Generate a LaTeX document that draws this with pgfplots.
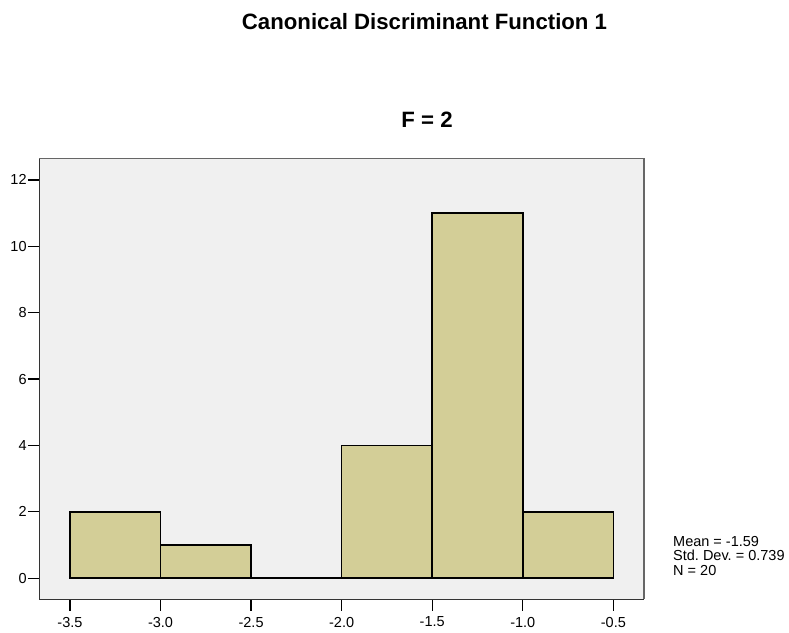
\documentclass[border=0pt]{standalone}
\usepackage{fontspec}
\setmainfont{Liberation Sans}
\usepackage{pgfplots}
\pgfplotsset{compat=1.18}
\definecolor{barfill}{RGB}{211,206,151}
\definecolor{bgfill}{RGB}{240,240,240}
\frenchspacing
\begin{document}
\begin{tikzpicture}[x=1bp,y=1bp]
\path (0,0) rectangle (789,633);
\begin{axis}[
  at={(39.3bp,33.7bp)}, anchor=south west,
  scale only axis, width=604.7bp, height=441bp,
  xmin=-3.669, xmax=-0.331, ymin=-0.636, ymax=12.65,
  axis background/.style={fill=bgfill},
  axis line style={draw=black!80, line width=1.2bp},
  axis x line*=bottom, axis y line*=left,
  tick align=outside, major tick length=11.5bp,
  tick style={black, line width=1.3bp},
  xtick={-3.5,-3,-2.5,-2,-1.5,-1,-0.5},
  xticklabels={-3.5,-3.0,-2.5,-2.0,-1.5,-1.0,-0.5},
  ytick={0,2,4,6,8,10,12},
  /pgf/number format/assume math mode=true,
  ticklabel style={font=\fontsize{14.5bp}{17bp}\selectfont, text=black},
  xticklabel style={inner sep=1bp, yshift=-5bp},
  yticklabel style={inner sep=1bp},
  clip=false,
]
\addplot[ybar interval, fill=barfill, draw=black, line width=1.6bp]
  coordinates {(-3.5,2) (-3,1) (-2.5,0) (-2,4) (-1.5,11) (-1,2) (-0.5,2)};
\draw[black!60, line width=1.2bp] (rel axis cs:0,1) -- (rel axis cs:1,1) -- (rel axis cs:1,0);
\end{axis}
\node[font=\bfseries\fontsize{22.2bp}{26bp}\selectfont] at (424.5,611) {Canonical Discriminant Function 1};
\node[font=\bfseries\fontsize{22.2bp}{26bp}\selectfont] at (427,513) {F = 2};
\node[font=\fontsize{14.5bp}{17bp}\selectfont, anchor=base west, inner sep=0] at (673,86.5) {Mean = -1.59};
\node[font=\fontsize{14.5bp}{17bp}\selectfont, anchor=base west, inner sep=0] at (673,72) {Std. Dev. = 0.739};
\node[font=\fontsize{14.5bp}{17bp}\selectfont, anchor=base west, inner sep=0] at (673,57.5) {N = 20};
\end{tikzpicture}
\end{document}
